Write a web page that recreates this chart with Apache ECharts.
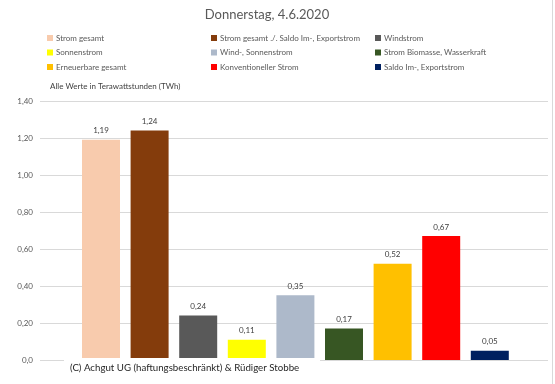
<!DOCTYPE html>
<html><head><meta charset="utf-8">
<script src="https://cdn.jsdelivr.net/npm/echarts@6/dist/echarts.min.js"></script>
<style>html,body{margin:0;padding:0;background:#fff}#c{width:555px;height:384px}</style>
</head><body><div id="c"></div>
<script>
var categories = ["Strom gesamt","Strom gesamt ./. Saldo Im-, Exportstrom","Windstrom","Sonnenstrom","Wind-, Sonnenstrom","Strom Biomasse, Wasserkraft","Erneuerbare gesamt","Konventioneller Strom","Saldo Im-, Exportstrom"];
var values = [1.19, 1.24, 0.24, 0.11, 0.35, 0.17, 0.52, 0.67, 0.05];
var colors = ["#F8CBAD","#843C0C","#595959","#FFFF00","#ADB9CA","#375623","#FFC000","#FF0000","#002060"];
var yTicks = {min:0, max:1.4, interval:0.2};
var legendCols = [[0,3,6],[1,4,7],[2,5,8]];
var FONT = "Lato";
function fmt(v){ return v === 0 ? "0,0" : v.toFixed(2).replace(".", ","); }

var series = categories.map(function(name, i){
  var d = categories.map(function(_, j){ return j === i ? values[i] : null; });
  return {
    name: name, type: 'bar', xAxisIndex: 1, yAxisIndex: 1, stack: 'all',
    barWidth: 38, data: d, itemStyle: {color: colors[i]},
    label: {show: true, position: 'top', distance: 5, fontFamily: FONT, fontSize: 8, color: '#404040',
      formatter: function(p){ return fmt(p.value); }}
  };
});

var legendX = [42, 206, 370];
var legends = legendCols.map(function(col, k){
  return {
    orient: 'vertical', left: legendX[k], top: 29, itemGap: 6.5,
    icon: 'rect', itemWidth: 6, itemHeight: 6,
    textStyle: {fontFamily: FONT, fontSize: 8, color: '#595959', padding: [0,0,0,-2]},
    data: col.map(function(i){ return categories[i]; }),
    selectedMode: false
  };
});

var chart = echarts.init(document.getElementById('c'));
chart.setOption({
  animation: false,
  title: {text: 'Donnerstag, 4.6.2020', left: 262, textAlign: 'center', top: 3,
    textStyle: {fontFamily: FONT, fontSize: 13, fontWeight: 'normal', color: '#595959'}},
  legend: legends,
  grid: [
    {left: 40, right: 7, top: 101, bottom: 24},
    {left: 76.7, width: 437.4, top: 101, bottom: 24}
  ],
  xAxis: [
    {gridIndex: 0, type: 'value', show: false},
    {gridIndex: 1, type: 'category', data: categories, axisLabel: {show: false}, axisLine: {show: false}, axisTick: {show: false}}
  ],
  yAxis: [
    {gridIndex: 0, type: 'value', min: yTicks.min, max: yTicks.max, interval: yTicks.interval,
      axisLine: {show: false}, axisTick: {show: false},
      splitLine: {lineStyle: {color: '#d9d9d9', width: 1}},
      axisLabel: {fontFamily: FONT, fontSize: 8, color: '#595959', margin: 7, formatter: fmt}},
    {gridIndex: 1, type: 'value', min: yTicks.min, max: yTicks.max, show: false, splitLine: {show: false}}
  ],
  series: series,
  graphic: [
    {type: 'text', left: 50, top: 82, style: {text: 'Alle Werte in Terawattstunden (TWh)', fontFamily: FONT, fontSize: 8, fill: '#404040'}},
    {type: 'rect', z: 100, shape: {x: 64, y: 358, width: 256, height: 26}, style: {fill: '#fff'}},
    {type: 'text', z: 101, left: 70, top: 363, style: {text: '(C) Achgut UG (haftungsbeschränkt) & Rüdiger Stobbe', fontFamily: FONT, fontSize: 9.7, fill: '#262626'}},
    {type: 'line', z: 100, shape: {x1: 552.5, y1: 0, x2: 552.5, y2: 384}, style: {stroke: '#d9d9d9', lineWidth: 1}}
  ]
});
</script></body></html>
